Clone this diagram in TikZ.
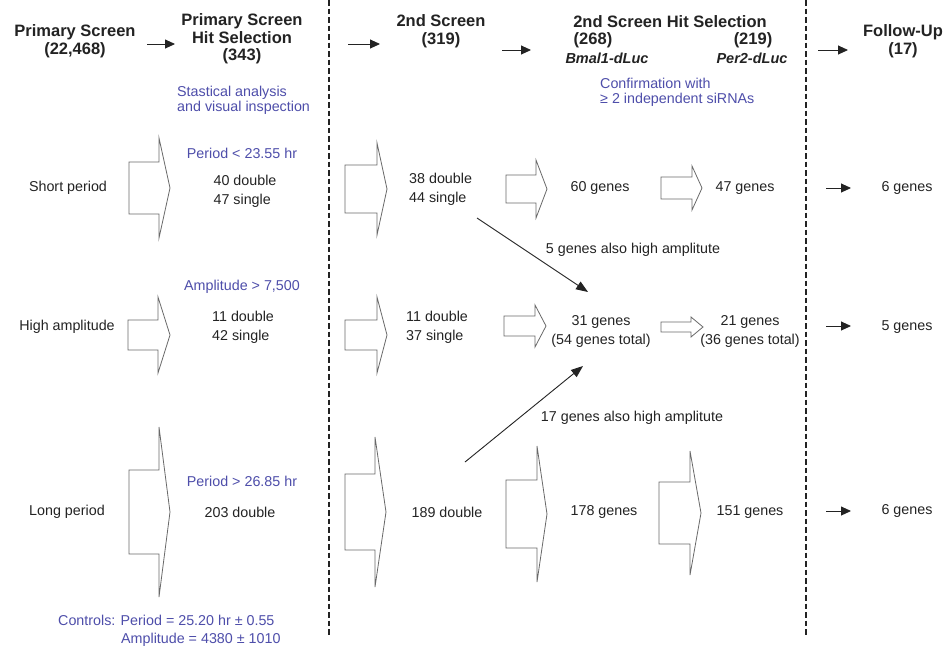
\documentclass[tikz,border=0pt]{standalone}
\usepackage{fontspec}
\setmainfont{Liberation Sans}
\usetikzlibrary{arrows.meta}
\definecolor{ink}{RGB}{35,35,35}
\definecolor{notecol}{RGB}{78,78,170}
\definecolor{outline}{RGB}{105,105,105}

\begin{document}
\begin{tikzpicture}[x=1pt,y=-1pt,
  title/.style={font=\fontsize{16.5}{17.5}\selectfont\bfseries, text=ink, align=center, inner sep=0pt},
  subtitle/.style={font=\fontsize{14.5}{16}\selectfont\bfseries\itshape, text=ink, inner sep=0pt},
  label/.style={font=\fontsize{14.3}{19}\selectfont, text=ink, align=center, inner sep=0pt},
  note/.style={font=\fontsize{14.3}{15.5}\selectfont, text=notecol, align=left, inner sep=0pt},
  stage/.style={-{Triangle[length=10pt,width=9pt]}, line width=0.9pt, draw=ink},
  link/.style={-{Triangle[length=12pt,width=9pt]}, line width=0.9pt, draw=ink},
  divider/.style={line width=1.8pt, dash pattern=on 5.5pt off 3pt, draw=ink},
  % open block arrow: #1 shaft length, #2 shaft half-height,
  % #3 head length, #4 head half-height
  pics/blockarrow/.style n args={4}{code={
    \draw[outline, line width=0.8pt, line join=miter]
      (0,-#2) -- (#1,-#2) -- (#1,-#4) -- ({#1+#3},0) -- (#1,#4)
      -- (#1,#2) -- (0,#2) -- cycle;
  }}
]
\fill[white] (0,0) rectangle (952,649);
\useasboundingbox (0,0) rectangle (952,649);

% column dividers
\coordinate (v1top) at (329,0);
\coordinate (v1bot) at (329,636);
\coordinate (v2top) at (806,0);
\coordinate (v2bot) at (806,636);
\draw[divider] (v1top) -- (v1bot);
\draw[divider] (v2top) -- (v2bot);

% column headings
\node[title] (ps)  at (75,41)  {Primary Screen\\(22,468)};
\node[title] (phs) at (242,39) {Primary Screen\\Hit Selection\\(343)};
\node[title] (ss)  at (441,31) {2nd Screen\\(319)};
\node[title] (shs) at (670,22) {2nd Screen Hit Selection};
\node[title] (n268) at (593,40) {(268)};
\node[title] (n219) at (753,40) {(219)};
\node[subtitle] (bmal) at (607,58) {Bmal1-dLuc};
\node[subtitle] (per)  at (752,58) {Per2-dLuc};
\node[title] (fu)  at (903,41) {Follow-Up\\(17)};

% heading arrows
\coordinate (t1a) at (147,44);  \coordinate (t1b) at (175,44);
\coordinate (t2a) at (348,44);  \coordinate (t2b) at (380,44);
\coordinate (t3a) at (502,50);  \coordinate (t3b) at (531,50);
\coordinate (t4a) at (818,50);  \coordinate (t4b) at (848,50);
\draw[stage] (t1a) -- (t1b);
\draw[stage] (t2a) -- (t2b);
\draw[stage] (t3a) -- (t3b);
\draw[stage] (t4a) -- (t4b);

% selection criteria notes
\node[note, anchor=west] (stat) at (177,100.5) {Stastical analysis\\and visual inspection};
\node[note, anchor=west] (conf) at (600,92.5) {Confirmation with\\≥ 2 independent siRNAs};

% ---- short period row ----
\node[label] (short) at (68,188) {Short period};
\pic at (129,188) {blockarrow={30}{26}{11}{50}};
\node[note, align=center] (pshort) at (242,153) {Period < 23.55 hr};
\node[label, align=left] (h1) at (245,191) {40 double\\47 single};
\pic at (345,189) {blockarrow={32}{24}{10}{46}};
\node[label, align=left, anchor=west] (s1) at (409,189) {38 double\\44 single};
\pic at (506,189) {blockarrow={30}{14}{11}{29}};
\node[label] (g1) at (600,188) {60 genes};
\pic at (661,188) {blockarrow={31}{11}{10}{22}};
\node[label] (p1) at (745,188) {47 genes};
\node[label] (f1) at (907,188) {6 genes};

% ---- high amplitude row ----
\node[label] (high) at (67,327) {High amplitude};
\pic at (128,335) {blockarrow={30}{15}{12}{38}};
\node[note, align=center] (phigh) at (242,287) {Amplitude > 7,500};
\node[label, align=left, anchor=west] (h2) at (212,327) {11 double\\42 single};
\pic at (345,335) {blockarrow={32}{15}{10}{38}};
\node[label, align=left, anchor=west] (s2) at (406,327) {11 double\\37 single};
\pic at (504,326) {blockarrow={31}{10}{11}{21}};
\node[label] (g2) at (601,331) {31 genes\\(54 genes total)};
\pic at (661,327) {blockarrow={30}{5}{12}{10}};
\node[label] (p2) at (750,331) {21 genes\\(36 genes total)};
\node[label] (f2) at (907,327) {5 genes};

% ---- long period row ----
\node[label] (long) at (67,512) {Long period};
\pic at (129,512) {blockarrow={30}{42}{11}{85}};
\node[note, align=center] (plong) at (242,481) {Period > 26.85 hr};
\node[label] (h3) at (240,512) {203 double};
\pic at (345,512) {blockarrow={30}{38}{11}{75}};
\node[label] (s3) at (447,512) {189 double};
\pic at (506,514) {blockarrow={31}{34}{10}{68}};
\node[label] (g3) at (604,512) {178 genes};
\pic at (659,513) {blockarrow={31}{31}{11}{62}};
\node[label] (p3) at (750,512) {151 genes};
\node[label] (f3) at (907,511) {6 genes};

% follow-up arrows
\coordinate (u1a) at (826,188); \coordinate (u1b) at (851,188);
\coordinate (u2a) at (826,326); \coordinate (u2b) at (851,326);
\coordinate (u3a) at (826,511); \coordinate (u3b) at (851,511);
\draw[stage] (u1a) -- (u1b);
\draw[stage] (u2a) -- (u2b);
\draw[stage] (u3a) -- (u3b);

% overlap with high amplitude hits
\coordinate (d1s) at (477,218); \coordinate (d1e) at (588,292);
\coordinate (d2s) at (465,462); \coordinate (d2e) at (583,366);
\draw[link] (d1s) -- (d1e);
\draw[link] (d2s) -- (d2e);
\node[label] (ov1) at (633,250) {5 genes also high amplitute};
\node[label] (ov2) at (632,418) {17 genes also high amplitute};

% control values
\node[note, anchor=west] (ctl) at (58,620) {Controls: Period = 25.20 hr ± 0.55};
\node[note, anchor=west] (amp) at (121,640) {Amplitude = 4380 ± 1010};
\end{tikzpicture}
\end{document}
